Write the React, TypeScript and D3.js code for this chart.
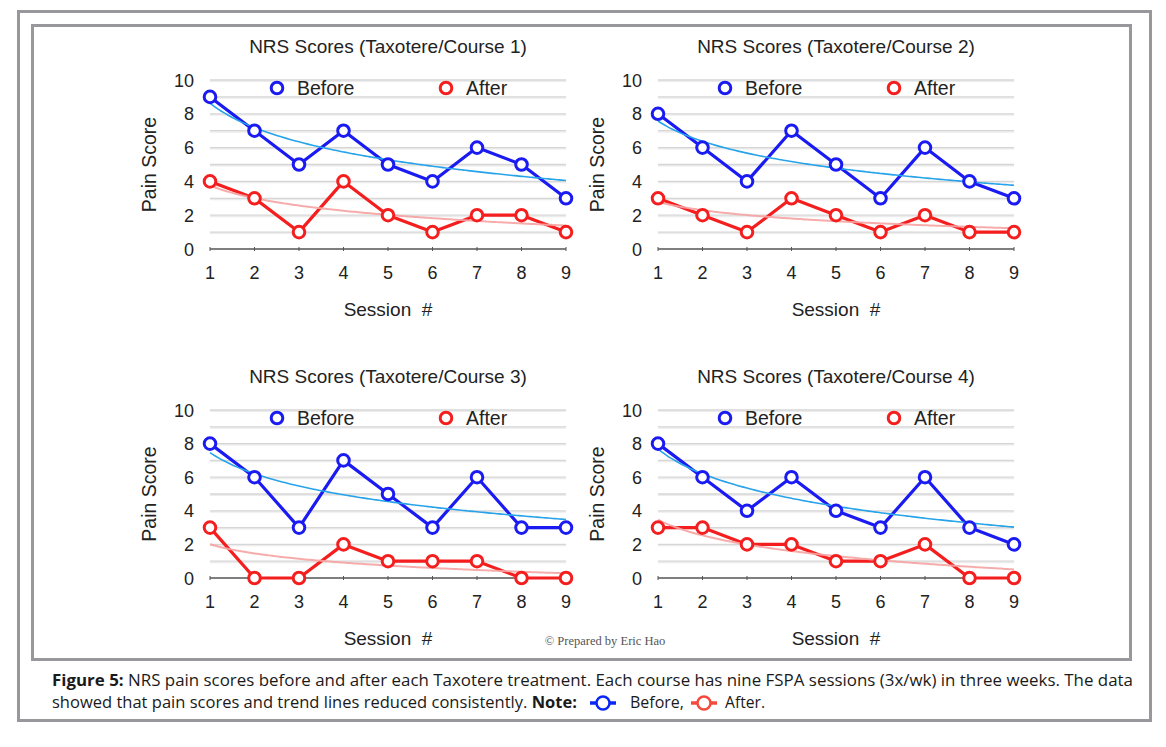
import React from "react";
import * as d3 from "d3";

const sessions = [1, 2, 3, 4, 5, 6, 7, 8, 9];
const yTicks = [0, 2, 4, 6, 8, 10];
const courseTitles = [
  "NRS Scores (Taxotere/Course 1)",
  "NRS Scores (Taxotere/Course 2)",
  "NRS Scores (Taxotere/Course 3)",
  "NRS Scores (Taxotere/Course 4)",
];
const before1 = [9, 7, 5, 7, 5, 4, 6, 5, 3];
const after1 = [4, 3, 1, 4, 2, 1, 2, 2, 1];
const before2 = [8, 6, 4, 7, 5, 3, 6, 4, 3];
const after2 = [3, 2, 1, 3, 2, 1, 2, 1, 1];
const before3 = [8, 6, 3, 7, 5, 3, 6, 3, 3];
const after3 = [3, 0, 0, 2, 1, 1, 1, 0, 0];
const before4 = [8, 6, 4, 6, 4, 3, 6, 3, 2];
const after4 = [3, 3, 2, 2, 1, 1, 2, 0, 0];
const beforeSeries = [before1, before2, before3, before4];
const afterSeries = [after1, after2, after3, after4];

const FONT = "'Liberation Sans', Arial, Helvetica, sans-serif";
const BLUE = "#1a1af2";
const RED = "#f51e1e";
const TREND_BLUE = "#27a3ea";
const TREND_RED = "#f6a3a3";
const BORDER = "#98989c";

// logarithmic trend (least squares y = a + b ln x), as the charting app did
function logFit(xs: number[], ys: number[]) {
  const lx = xs.map((x) => Math.log(x));
  const mx = d3.mean(lx)!;
  const my = d3.mean(ys)!;
  let num = 0, den = 0;
  lx.forEach((v, i) => {
    num += (v - mx) * (ys[i] - my);
    den += (v - mx) * (v - mx);
  });
  const b = num / den;
  const a = my - b * mx;
  return (x: number) => a + b * Math.log(x);
}

function Marker({ cx, cy, color }: { cx: number; cy: number; color: string }) {
  return <circle cx={cx} cy={cy} r={5.8} fill="white" stroke={color} strokeWidth={3} />;
}

function Panel({ idx, x0, x1, yTop, yBottom }: { idx: number; x0: number; x1: number; yTop: number; yBottom: number }) {
  const x = d3.scaleLinear().domain([1, 9]).range([x0, x1]);
  const y = d3.scaleLinear().domain([0, 10]).range([yBottom, yTop]);
  const before = beforeSeries[idx];
  const after = afterSeries[idx];
  const line = d3.line<number>().x((_, i) => x(sessions[i])).y((d) => y(d));
  const fb = logFit(sessions, before);
  const fa = logFit(sessions, after);
  const samples = d3.range(1, 9.0001, 0.1);
  const trend = (f: (v: number) => number) =>
    d3.line<number>().x((s) => x(s)).y((s) => y(f(s))).curve(d3.curveMonotoneX)(samples) || "";
  const cxm = (x0 + x1) / 2;
  const gridVals = d3.range(1, 11);
  return (
    <g>
      <text x={cxm} y={yTop - 27} textAnchor="middle" fontFamily={FONT} fontSize={19} fill="#222">
        {courseTitles[idx]}
      </text>
      {gridVals.map((g) => (
        <g key={g}>
          <line x1={x0} x2={x1} y1={y(g) + 1.2} y2={y(g) + 1.2} stroke="#ececec" strokeWidth={1.5} />
          <line x1={x0} x2={x1} y1={y(g)} y2={y(g)} stroke="#d6d6d6" strokeWidth={1.3} />
        </g>
      ))}
      <line x1={x0} x2={x1} y1={y(0)} y2={y(0)} stroke="#555" strokeWidth={1.5} />
      {sessions.map((s) => (
        <line key={s} x1={x(s)} x2={x(s)} y1={y(0) - 2} y2={y(0) + 2} stroke="#555" strokeWidth={1} />
      ))}
      {yTicks.map((t) => (
        <text key={t} x={x0 - 16} y={y(t) + 6.5} textAnchor="end" fontFamily={FONT} fontSize={18} fill="#222">
          {t}
        </text>
      ))}
      {sessions.map((s) => (
        <text key={s} x={x(s)} y={y(0) + 30} textAnchor="middle" fontFamily={FONT} fontSize={18} fill="#222">
          {s}
        </text>
      ))}
      <text x={cxm} y={y(0) + 67} textAnchor="middle" fontFamily={FONT} fontSize={19} fill="#222" xmlSpace="preserve">
        {"Session  #"}
      </text>
      <text
        transform={`translate(${x0 - 54},${(yTop + yBottom) / 2}) rotate(-90)`}
        textAnchor="middle"
        fontFamily={FONT}
        fontSize={19.5}
        fill="#222"
      >
        Pain Score
      </text>
      {/* legend */}
      <Marker cx={x0 + 67} cy={yTop + 8} color={BLUE} />
      <text x={x0 + 87} y={yTop + 15} fontFamily={FONT} fontSize={19.5} fill="#222">Before</text>
      <Marker cx={x0 + 236} cy={yTop + 8} color={RED} />
      <text x={x0 + 256} y={yTop + 15} fontFamily={FONT} fontSize={19.5} fill="#222">After</text>
      {/* series */}
      <path d={line(after) || ""} fill="none" stroke={RED} strokeWidth={3.2} strokeLinejoin="round" />
      <path d={trend(fa)} fill="none" stroke={TREND_RED} strokeWidth={2} opacity={0.9} />
      <path d={line(before) || ""} fill="none" stroke={BLUE} strokeWidth={3.2} strokeLinejoin="round" />
      <path d={trend(fb)} fill="none" stroke={TREND_BLUE} strokeWidth={1.6} />
      {after.map((v, i) => (
        <Marker key={"a" + i} cx={x(sessions[i])} cy={y(v)} color={RED} />
      ))}
      {before.map((v, i) => (
        <Marker key={"b" + i} cx={x(sessions[i])} cy={y(v)} color={BLUE} />
      ))}
    </g>
  );
}

function CaptionMarker({ cx, cy, color }: { cx: number; cy: number; color: string }) {
  return (
    <g>
      <line x1={cx - 13} x2={cx + 13} y1={cy} y2={cy} stroke={color} strokeWidth={3.5} />
      <circle cx={cx} cy={cy} r={6.5} fill="white" stroke={color} strokeWidth={2.5} />
    </g>
  );
}

export default function App() {
  const CAP = "'Open Sans', 'Noto Sans', sans-serif";
  return (
    <svg width={1166} height={747} style={{ position: "absolute", left: 0, top: 0, background: "white" }}>
      <rect x={0} y={0} width={1166} height={747} fill="white" />
      <rect x={18.5} y={11.5} width={1132} height={709} fill="none" stroke={BORDER} strokeWidth={3} />
      <rect x={32.5} y={25.5} width={1098} height={634} fill="none" stroke={BORDER} strokeWidth={3} />
      <Panel idx={0} x0={210} x1={566} yTop={80} yBottom={249} />
      <Panel idx={1} x0={658} x1={1014} yTop={80} yBottom={249} />
      <Panel idx={2} x0={210} x1={566} yTop={410} yBottom={578} />
      <Panel idx={3} x0={658} x1={1014} yTop={410} yBottom={578} />
      <text x={605} y={645} textAnchor="middle" fontFamily="'Liberation Serif', 'DejaVu Serif', serif" fontSize={12.5} fill="#555">
        © Prepared by Eric Hao
      </text>
      <text x={52} y={686} fontFamily={CAP} fontSize={15.5} fill="#1a1a1a" textLength={1081} lengthAdjust="spacingAndGlyphs">
        <tspan fontWeight="bold">Figure 5:</tspan>
        {" NRS pain scores before and after each Taxotere treatment. Each course has nine FSPA sessions (3x/wk) in three weeks. The data"}
      </text>
      <text x={52} y={708} fontFamily={CAP} fontSize={15.5} fill="#1a1a1a" textLength={525} lengthAdjust="spacingAndGlyphs">
        {"showed that pain scores and trend lines reduced consistently. "}
        <tspan fontWeight="bold">Note:</tspan>
      </text>
      <CaptionMarker cx={603} cy={703} color="#0a28f5" />
      <text x={630} y={708} fontFamily={CAP} fontSize={15.5} fill="#1a1a1a" textLength={54} lengthAdjust="spacingAndGlyphs">Before,</text>
      <CaptionMarker cx={704} cy={703} color="#f5493e" />
      <text x={725} y={708} fontFamily={CAP} fontSize={15.5} fill="#1a1a1a" textLength={40} lengthAdjust="spacingAndGlyphs">After.</text>
    </svg>
  );
}
